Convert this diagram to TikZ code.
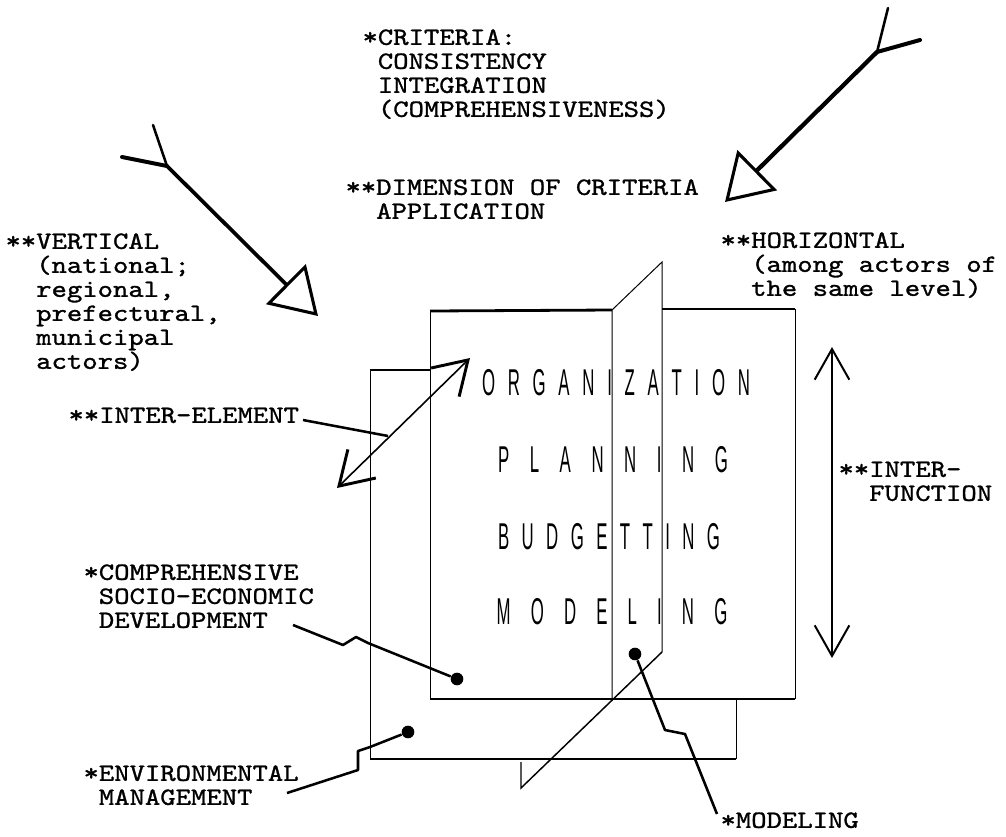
\documentclass[tikz,border=0pt]{standalone}
\usepackage{fontspec}
\usetikzlibrary{arrows.meta}

\newfontfamily\typewriter{lmmono10-regular.otf}[FakeStretch=1.18, FakeBold=1.2]
\newfontfamily\panelfont[FakeStretch=0.45]{Liberation Sans}
\newcommand\notefont{\typewriter\fontsize{18.6}{18}\selectfont\lineskiplimit=-20pt\relax}
\newcommand\firstline{\rule{0pt}{16pt}}

\tikzset{every picture/.style={line width=0.75pt}}
\tikzset{
  note/.style={anchor=north west, inner sep=0pt, align=left, font=\notefont},
  panel text/.style={inner sep=0pt, font=\panelfont\fontsize{28}{28}\selectfont},
  thin edge/.style={line width=0.75pt},
  heavy edge/.style={line width=2.1pt},
  leader/.style={line width=1.9pt, line join=round},
  pin dot/.style={circle, fill, inner sep=0pt, minimum size=9.5pt},
  big arrow/.style={line width=2.8pt, -{Triangle[open, length=34pt, width=42pt, line width=2.3pt]}},
  fork tine/.style={line cap=round},
  two way/.style={{Straight Barb[length=24pt, width=30pt, line width=2.2pt]}-{Straight Barb[length=24pt, width=30pt, line width=2.2pt]}, line width=1.2pt},
  two way open/.style={{Straight Barb[length=23pt, width=26pt, line width=1.5pt]}-{Straight Barb[length=23pt, width=26pt, line width=1.5pt]}, line width=1.1pt}
}

\begin{document}
\begin{tikzpicture}[x=0.75pt,y=0.75pt,yscale=-1,xscale=1]
\useasboundingbox (0,0) rectangle (1006,836);

%Shape: back sheet
\draw[thin edge] (370,370) -- (370,759);
\draw[heavy edge] (370,370) -- (430,370);
\draw[heavy edge] (370,759) -- (736,759);
\draw[thin edge] (736,700) -- (736,759);
%Shape: front sheet
\draw[thin edge] (430,311) -- (430,699);
\draw[heavy edge] (430,311) -- (612,310);
\draw[heavy edge] (662,309) -- (795,309);
\draw[thin edge] (795,309) -- (795,699);
\draw[heavy edge] (430,699) -- (795,699);
%Shape: folded panel
\draw[thin edge] (612,700) -- (612,310) -- (662,262) -- (662,652);
\draw[line width=1.1pt] (662,652) -- (521,788) -- (521,762);

% Text Node
\node[panel text] (org) at (616,383) {\makebox[201pt][s]{O R G A N I Z A T I O N}};
\node[panel text] (plan) at (613,460) {\makebox[172.5pt][s]{P L A N N I N G}};
\node[panel text] (budget) at (609,537) {\makebox[166.5pt][s]{B U D G E T T I N G}};
\node[panel text] (model) at (612,612) {\makebox[173pt][s]{M O D E L I N G}};

% Text Node
\node[note] (criteria) at (362,23) {\firstline*CRITERIA:\\
\phantom{*}CONSISTENCY\\
\phantom{*}INTEGRATION\\
\phantom{*}(COMPREHENSIVENESS)};
\node[note] (dimension) at (345,173) {\firstline**DIMENSION OF CRITERIA\\
\phantom{**}APPLICATION};
\node[note] (vertical) at (5,227) {\firstline**VERTICAL\\
\phantom{**}(national;\\
\phantom{**}regional,\\
\phantom{**}prefectural,\\
\phantom{**}municipal\\
\phantom{**}actors)};
\node[note] (horizontal) at (720,226) {\firstline**HORIZONTAL\\
\phantom{**}(among actors of\\
\phantom{**}the same level)};
\node[note] (interelem) at (68,401) {\firstline**INTER-ELEMENT};
\node[note] (interfunc) at (838,455) {\firstline**INTER-\\
\phantom{**}FUNCTION};
\node[note] (compsocio) at (83,558) {\firstline*COMPREHENSIVE\\
\phantom{*}SOCIO-ECONOMIC\\
\phantom{*}DEVELOPMENT};
\node[note] (environ) at (83,759) {\firstline*ENVIRONMENTAL\\
\phantom{*}MANAGEMENT};
\node[note] (modeling) at (720,806) {\firstline*MODELING};

%Big arrow: vertical dimension
\coordinate (vertTail) at (167,166);
\coordinate (vertTip) at (318,316);
\draw[big arrow] (vertTail) -- (vertTip);
\draw[fork tine, line width=3pt] (vertTail) -- ++(-45,-9);
\draw[fork tine, line width=1.9pt] (vertTail) -- ++(-14,-41);
%Big arrow: horizontal dimension
\coordinate (horTail) at (877,52);
\coordinate (horTip) at (725,202);
\draw[big arrow, line width=3.2pt] (horTail) -- (horTip);
\draw[fork tine, line width=1.9pt] (horTail) -- ++(11,-44);
\draw[fork tine, line width=3pt] (horTail) -- ++(43,-12);

%Double arrows
\coordinate (elemLow) at (337,488);
\coordinate (elemHigh) at (470,358);
\draw[two way] (elemLow) -- (elemHigh);
\coordinate (funcTop) at (832,347);
\coordinate (funcBot) at (832,658);
\draw[two way open] (funcTop) -- (funcBot);

%Leaders
\coordinate (elemStart) at (303,420);
\coordinate (elemEnd) at (388,436);
\draw[leader] (elemStart) -- (elemEnd);

\node[pin dot] (compDot) at (457,679) {};
\coordinate (compStart) at (293,625);
\draw[leader] (compStart) -- (343,645) -- (356,637) -- (368,643) -- (compDot);

\node[pin dot] (envDot) at (408,732) {};
\coordinate (envStart) at (287,793);
\draw[leader] (envStart) -- (358,770) -- (358,751) -- (370,747) -- (envDot);

\node[pin dot] (modDot) at (635,654) {};
\coordinate (modEnd) at (717,814);
\draw[leader] (modDot) -- (665,730) -- (685,734) -- (modEnd);

\end{tikzpicture}
\end{document}
